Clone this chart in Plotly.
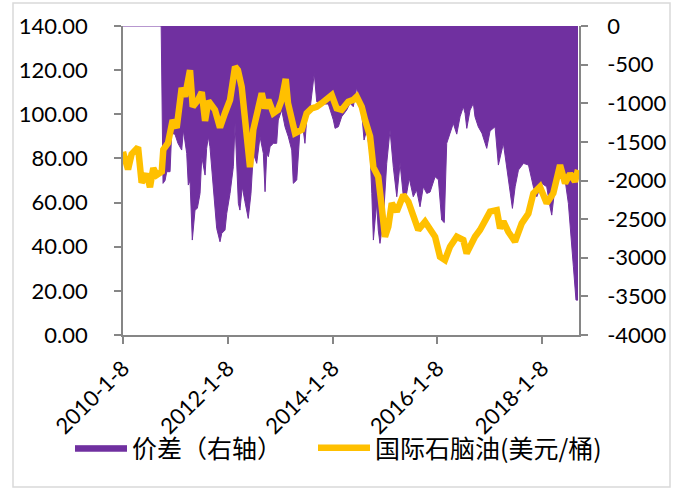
import plotly.graph_objects as go

# ---------------- data ----------------
naphtha_dates = [
    "2010-01-08", "2010-02-12", "2010-03-09", "2010-04-23", "2010-05-18", "2010-06-22",
    "2010-07-15", "2010-08-07", "2010-08-31", "2010-10-05", "2010-10-16", "2010-11-18",
    "2010-12-20", "2011-01-17", "2011-02-21", "2011-03-16", "2011-04-20", "2011-05-09",
    "2011-06-15", "2011-07-11", "2011-08-03", "2011-08-26", "2011-10-11", "2011-11-15",
    "2011-12-20", "2012-01-24", "2012-02-28", "2012-03-19", "2012-04-14", "2012-05-19",
    "2012-06-11", "2012-07-04", "2012-07-28", "2012-09-01", "2012-09-24", "2012-10-17",
    "2012-11-21", "2012-12-23", "2013-01-18", "2013-02-15", "2013-03-03", "2013-03-29",
    "2013-04-21", "2013-06-07", "2013-07-11", "2013-08-15", "2013-09-19", "2013-10-24",
    "2013-11-28", "2014-01-02", "2014-02-05", "2014-03-12", "2014-04-27", "2014-06-01",
    "2014-06-25", "2014-07-30", "2014-08-22", "2014-09-26", "2014-10-19", "2014-11-22",
    "2014-12-16", "2015-01-08", "2015-01-31", "2015-02-24", "2015-03-31", "2015-05-16",
    "2015-06-20", "2015-07-24", "2015-08-28", "2015-10-14", "2015-11-18", "2015-12-23",
    "2016-01-26", "2016-03-01", "2016-04-05", "2016-05-22", "2016-07-07", "2016-07-30",
    "2016-09-26", "2016-10-31", "2017-01-09", "2017-02-25", "2017-03-20", "2017-04-12",
    "2017-05-16", "2017-07-02", "2017-08-18", "2017-10-03", "2017-11-07", "2017-12-23",
    "2018-02-08", "2018-03-26", "2018-05-12", "2018-06-16", "2018-07-21", "2018-08-24",
    "2018-09-14",
]
naphtha_values = [
    83, 75, 82, 85, 69, 73,
    67, 75.6, 72.5, 74, 84, 87,
    97.4, 93.8, 112, 108, 120, 103.4,
    106.5, 110, 97, 106, 102, 94,
    100.6, 106.5, 121.6, 120, 112.5, 94,
    76, 93, 99, 109.5, 102.7, 106.5,
    100.5, 102, 106.5, 116, 105, 99,
    91.4, 93, 100.5, 102.7, 103.4, 105,
    106.5, 108.7, 102.7, 102, 105.7, 106.5,
    108, 103.4, 97.4, 90, 76, 71.7,
    58, 44.5, 49, 59.7, 55.9, 63.4,
    60.4, 53.6, 47.6, 51.3, 48.3, 44.5,
    35.5, 34, 40, 44.5, 43, 37,
    44.5, 47.6, 55.9, 56.6, 48.3, 51.5,
    46.8, 42.3, 50.6, 55, 64.2, 67.2,
    59.7, 64.2, 77, 68.7, 73.1, 69.5,
    74.8,
]

spread_dates = [
    "2010-01-08", "2010-10-01", "2010-10-14", "2010-10-28", "2010-11-09", "2010-12-02",
    "2010-12-13", "2011-01-05", "2011-01-26", "2011-02-21", "2011-03-05", "2011-03-28",
    "2011-04-08", "2011-04-20", "2011-05-06", "2011-05-25", "2011-06-10", "2011-06-29",
    "2011-07-11", "2011-08-03", "2011-08-14", "2011-08-26", "2011-09-06", "2011-09-25",
    "2011-10-11", "2011-10-23", "2011-11-15", "2011-11-27", "2011-12-20", "2012-01-01",
    "2012-01-24", "2012-02-16", "2012-02-28", "2012-03-10", "2012-03-22", "2012-04-02",
    "2012-04-18", "2012-05-07", "2012-05-30", "2012-06-18", "2012-07-04", "2012-07-28",
    "2012-08-20", "2012-09-12", "2012-09-24", "2012-10-06", "2012-10-17", "2012-10-29",
    "2012-11-21", "2012-12-14", "2012-12-25", "2013-01-18", "2013-02-10", "2013-03-05",
    "2013-03-29", "2013-04-09", "2013-05-03", "2013-05-26", "2013-06-18", "2013-06-29",
    "2013-07-11", "2013-08-03", "2013-09-02", "2013-09-19", "2013-10-24", "2013-12-09",
    "2014-01-13", "2014-01-25", "2014-02-17", "2014-03-12", "2014-04-16", "2014-05-09",
    "2014-06-01", "2014-06-25", "2014-07-06", "2014-07-30", "2014-08-15", "2014-09-02",
    "2014-09-26", "2014-10-08", "2014-10-19", "2014-10-31", "2014-11-11", "2014-11-22",
    "2014-12-04", "2014-12-27", "2015-01-20", "2015-02-12", "2015-03-07", "2015-03-31",
    "2015-04-23", "2015-05-16", "2015-06-08", "2015-06-26", "2015-07-24", "2015-08-16",
    "2015-09-09", "2015-10-02", "2015-10-26", "2015-11-18", "2015-12-23", "2016-01-15",
    "2016-02-07", "2016-02-25", "2016-03-13", "2016-04-05", "2016-04-28", "2016-05-22",
    "2016-06-14", "2016-07-07", "2016-07-19", "2016-07-31", "2016-08-23", "2016-09-15",
    "2016-09-26", "2016-10-19", "2016-11-14", "2016-12-17", "2017-01-09", "2017-02-13",
    "2017-03-08", "2017-04-12", "2017-05-06", "2017-05-29", "2017-06-14", "2017-07-03",
    "2017-07-26", "2017-08-30", "2017-10-04", "2017-11-07", "2017-12-01", "2018-01-04",
    "2018-02-08", "2018-03-03", "2018-03-15", "2018-04-07", "2018-05-12", "2018-06-16",
    "2018-07-09", "2018-08-13", "2018-08-31", "2018-09-14",
]
spread_values = [
    0, 0, -2037, -2000, -1886, -1886,
    -1390, -1400, -1519, -1606, -1350, -1649,
    -2059, -2000, -2771, -2383, -2360, -2167,
    -1692, -1930, -1584, -1433, -1563, -2037,
    -2340, -2620, -2793, -2685, -2642, -2426,
    -2167, -1822, -1258, -1735, -2297, -2383,
    -2081, -2275, -2491, -2167, -1649, -1778,
    -1433, -1649, -2145, -1649, -1692, -1563,
    -1519, -1519, -1217, -1088, -1304, -1433,
    -1606, -2037, -1994, -1330, -1360, -1519,
    -1217, -1088, -613, -980, -1010, -1010,
    -1217, -1325, -1304, -1174, -1088, -1000,
    -1045, -786, -1000, -1131, -1476, -1350,
    -1649, -2167, -2771, -2512, -2297, -2642,
    -2814, -2512, -1778, -1347, -1830, -2210,
    -1778, -2210, -2167, -1972, -2210, -2124,
    -2340, -2081, -2167, -2150, -1951, -1990,
    -2512, -2545, -1519, -1390, -1260, -1400,
    -1174, -1045, -1131, -1325, -1088, -1001,
    -1174, -1304, -1390, -1584, -1360, -1304,
    -1800, -1519, -1822, -2124, -2361, -2081,
    -1865, -1778, -1800, -2081, -2210, -2037,
    -2081, -2340, -2448, -2081, -1822, -1994,
    -2297, -3117, -3548, -3548,
]

x_tick_vals = ["2010-01-08", "2012-01-08", "2014-01-08", "2016-01-08", "2018-01-08"]
x_tick_text = ["2010-1-8", "2012-1-8", "2014-1-8", "2016-1-8", "2018-1-8"]
x_range = ["2010-01-08", "2018-09-21"]

right_tick_vals = [0, -500, -1000, -1500, -2000, -2500, -3000, -3500, -4000]
right_tick_text = ["0", "-500", "-1000", "-1500", "-2000", "-2500", "-3000", "-3500", "-4000"]

spread_name = "价差（右轴）"
naphtha_name = "国际石脑油(美元/桶)"

# ---------------- style ----------------
W, H = 685, 490
L, R, T, B = 123, 106, 26, 155
PW, PH = W - L - R, H - T - B
PURPLE = "#7030A0"
YELLOW = "#FFC000"
AXIS = "#868686"
NUM_FONT = dict(family="Lato, Carlito, Liberation Sans, sans-serif", size=22, color="#000000")
CJK_FONT = dict(family="Noto Sans CJK SC, sans-serif", size=25, color="#000000")


def px_x(p):
    return (p - L) / PW


def px_y(p):
    return (H - B - p) / PH


fig = go.Figure()
# purple spread area on the primary (right-side) axis, drawn underneath
fig.add_trace(go.Scatter(
    x=spread_dates, y=spread_values, name=spread_name, yaxis="y",
    mode="lines", fill="tozeroy", fillcolor=PURPLE,
    line=dict(color=PURPLE, width=1), legend="legend",
))
# naphtha price on the overlaying (left-side) axis, drawn on top
fig.add_trace(go.Scatter(
    x=naphtha_dates, y=naphtha_values, name=naphtha_name, yaxis="y2",
    mode="lines", line=dict(color=YELLOW, width=6.5), legend="legend2",
))

axis_common = dict(
    ticks="outside", ticklen=7, tickcolor=AXIS, tickwidth=1.5, showline=True,
    linecolor=AXIS, linewidth=1.5, showgrid=False, zeroline=False, tickfont=NUM_FONT,
)
legend_common = dict(
    orientation="h", y=px_y(448), xanchor="left", yanchor="middle",
    font=CJK_FONT, itemwidth=52, bgcolor="rgba(0,0,0,0)",
)

fig.update_layout(
    width=W, height=H,
    margin=dict(l=L, r=R, t=T, b=B, autoexpand=False),
    paper_bgcolor="white", plot_bgcolor="white",
    showlegend=True,
    legend=dict(x=px_x(70), **legend_common),
    legend2=dict(x=px_x(313), **legend_common),
    xaxis=dict(
        type="date", range=x_range, tickvals=x_tick_vals, ticktext=x_tick_text,
        tickangle=-45, ticklabelstandoff=3, **axis_common,
    ),
    yaxis=dict(
        range=[-4000, 0], tickvals=right_tick_vals, ticktext=right_tick_text,
        side="right", ticklabelstandoff=15, **axis_common,
    ),
    yaxis2=dict(
        range=[0, 140], dtick=20, tick0=0, tickformat=".2f",
        overlaying="y", side="left", ticklabelstandoff=22, **axis_common,
    ),
    shapes=[dict(
        type="rect", xref="paper", yref="paper",
        x0=px_x(13), x1=px_x(670), y0=px_y(487), y1=px_y(3),
        line=dict(color="#D9D9D9", width=1.5), fillcolor="rgba(0,0,0,0)", layer="below",
    )],
)

fig.write_html(
    "out.html",
    config={"displayModeBar": False},
    post_script="document.body.style.margin='0';",
)
